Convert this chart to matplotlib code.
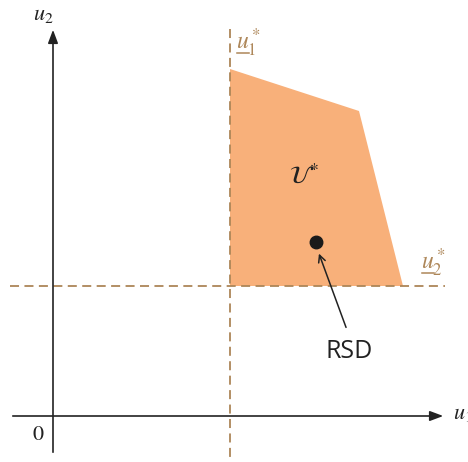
import matplotlib.pyplot as plt
from matplotlib.patches import Polygon

plt.rcParams['mathtext.fontset'] = 'stix'

# feasible region corners (u1, u2) in plot units, y grows downward
region_u1 = [230, 359, 403, 230]
region_u2 = [69, 111, 286, 286]
u1_star = 230
u2_star = 286
rsd = (316, 242)

fill_col = '#F8B07A'
dash_col = '#AD8658'
ink = '#222222'

fig = plt.figure(figsize=(4.68, 4.62), dpi=100)
ax = fig.add_axes([0, 0, 1, 1])
ax.set_xlim(0, 468)
ax.set_ylim(462, 0)
ax.axis('off')

ax.add_patch(Polygon(list(zip(region_u1, region_u2)), closed=True,
                     facecolor=fill_col, edgecolor='none', zorder=1))

# thresholds
ax.plot([u1_star, u1_star], [29, 462], ls=(0, (5, 3)), color=dash_col, lw=1.3, zorder=2)
ax.plot([10, 445], [u2_star, u2_star], ls=(0, (5, 3)), color=dash_col, lw=1.3, zorder=2)

# axes with arrows
ax.annotate('', xy=(446, 416), xytext=(10, 416),
            arrowprops=dict(arrowstyle='-|>,head_length=0.8,head_width=0.3', color=ink, lw=1.2))
ax.annotate('', xy=(53, 27), xytext=(53, 455),
            arrowprops=dict(arrowstyle='-|>,head_length=0.8,head_width=0.3', color=ink, lw=1.2))
ax.text(453, 419, '$u_1$', fontsize=16, ha='left', va='baseline', color=ink)
ax.text(33, 20, '$u_2$', fontsize=16, ha='left', va='baseline', color=ink)
ax.text(38, 435, '0', fontsize=16, ha='center', va='center', color=ink, family='STIXGeneral')

# threshold labels, underlined
ax.text(236, 50, r'$u_1^*$', fontsize=17, ha='left', va='baseline', color=dash_col)
ax.plot([237, 249], [53, 53], color=dash_col, lw=1.1)
ax.text(421, 270, r'$u_2^*$', fontsize=17, ha='left', va='baseline', color=dash_col)
ax.plot([422, 434], [273, 273], color=dash_col, lw=1.1)

ax.text(304, 177, r'$\mathcal{U}^{*}$', fontsize=18, ha='center', va='center', color=ink)

# recommended point
ax.plot(*rsd, 'o', color='#1a1a1a', ms=9, zorder=3)
ax.annotate('', xy=(rsd[0] + 2, rsd[1] + 9), xytext=(347, 330),
            arrowprops=dict(arrowstyle='->,head_length=0.5,head_width=0.25', color=ink, lw=1.1))
ax.text(349, 352, 'RSD', fontsize=18, ha='center', va='center', color=ink, family='Open Sans')

fig.savefig('out.png', dpi=100)
